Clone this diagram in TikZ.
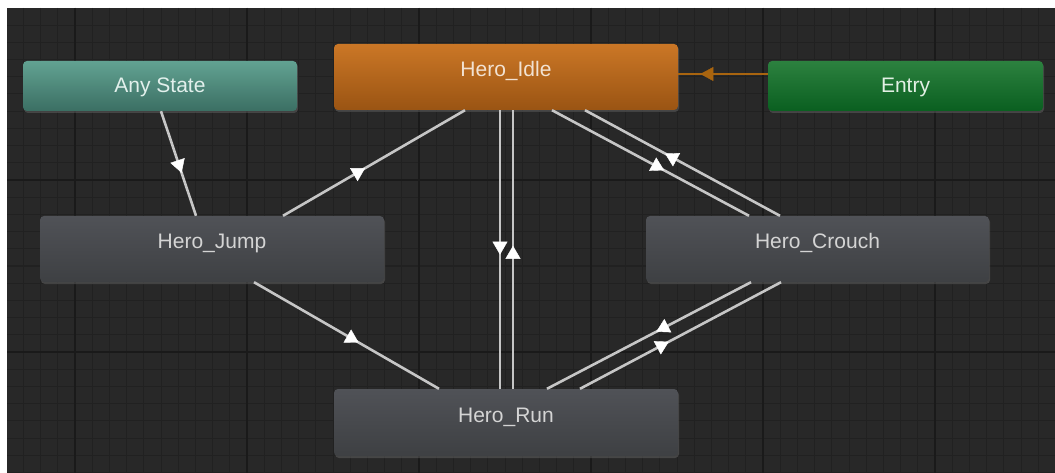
\documentclass[tikz,border=0pt]{standalone}
\usepackage{fontspec}
\setmainfont{Liberation Sans}
\usetikzlibrary{arrows.meta,decorations.markings,shadows}
\definecolor{bgC}{HTML}{282828}
\definecolor{minorC}{HTML}{212121}
\definecolor{majorC}{HTML}{1A1A1A}
\definecolor{grayTop}{HTML}{505257}
\definecolor{grayBot}{HTML}{3E4043}
\definecolor{grayTxt}{HTML}{D4D4D4}
\definecolor{idleTop}{HTML}{CB7726}
\definecolor{idleBot}{HTML}{9A5413}
\definecolor{idleTxt}{HTML}{F2E2D2}
\definecolor{anyTop}{HTML}{62A292}
\definecolor{anyBot}{HTML}{3B6F63}
\definecolor{anyTxt}{HTML}{E2F0EC}
\definecolor{entryTop}{HTML}{2C813F}
\definecolor{entryBot}{HTML}{0A5F20}
\definecolor{entryTxt}{HTML}{E2F0E4}
\definecolor{lineC}{HTML}{C6C6C6}
\definecolor{orangeLine}{HTML}{A8640F}
\tikzset{
  state/.style={rounded corners=4pt, inner sep=0pt, minimum width=344pt, minimum height=66pt,
    font=\fontsize{21}{25}\selectfont, text height=15pt, text depth=15pt,
    drop shadow={opacity=0.35, shadow xshift=1pt, shadow yshift=-2pt}},
  grayst/.style={state, top color=grayTop, bottom color=grayBot, text=grayTxt},
  idlest/.style={state, top color=idleTop, bottom color=idleBot, text=idleTxt},
  shortst/.style={state, minimum width=275pt, minimum height=50pt, text height=16pt, text depth=2pt},
  anyst/.style={shortst, top color=anyTop, bottom color=anyBot, text=anyTxt},
  entryst/.style={shortst, top color=entryTop, bottom color=entryBot, text=entryTxt},
  trans/.style={draw=lineC, line width=2.6pt, postaction={decorate},
    decoration={markings, mark=at position #1 with {\arrow[xshift=6.5pt, white]{Triangle[width=15pt,length=13pt,line width=0.4pt]}}}},
  entryline/.style={draw=orangeLine, line width=2pt, postaction={decorate},
    decoration={markings, mark=at position #1 with {\arrow[xshift=6.5pt]{Triangle[width=14pt,length=13pt,line width=0.4pt]}}}}
}
\begin{document}
\begin{tikzpicture}[x=1pt,y=-1pt]
\useasboundingbox (0,0) rectangle (1055,473);
\fill[white] (0,0) rectangle (1055,473);
\fill[bgC] (7,8) rectangle (1055,473);
\begin{scope}
  \clip (7,8) rectangle (1055,473);
  \foreach \i in {0,...,61} {
    \pgfmathsetmacro\xx{6.2+17.2*\i}
    \draw[minorC, line width=1pt] (\xx,8) -- (\xx,473);
  }
  \foreach \j in {1,...,27} {
    \pgfmathsetmacro\yy{8+17.2*\j}
    \draw[minorC, line width=1pt] (7,\yy) -- (1055,\yy);
  }
  \foreach \i in {4,14,24,34,44,54} {
    \pgfmathsetmacro\xx{6.2+17.2*\i}
    \draw[majorC, line width=1.6pt] (\xx,8) -- (\xx,473);
  }
  \foreach \j in {10,20} {
    \pgfmathsetmacro\yy{8+17.2*\j}
    \draw[majorC, line width=1.6pt] (7,\yy) -- (1055,\yy);
  }
\end{scope}

\node[idlest] (idle) at (506,77) {Hero\_Idle};
\node[anyst, minimum width=274pt] (any) at (160,86) {Any State};
\node[entryst] (entry) at (905.5,86) {Entry};
\node[grayst] (jump) at (212,249) {Hero\_Jump};
\node[grayst, minimum width=343pt] (crouch) at (817.5,249) {Hero\_Crouch};
\node[grayst, minimum height=67pt] (run) at (506,422.5) {Hero\_Run};

\draw[entryline=0.68] ([yshift=12pt]entry.west) -- ([yshift=3pt]idle.east);
\draw[trans=0.53] ([xshift=1pt]any.south) -- ([xshift=-16pt]jump.north);
\draw[trans=0.42] ([xshift=71pt]jump.north) -- ([xshift=-41pt]idle.south);
\draw[trans=0.535] ([xshift=42pt]jump.south) -- ([xshift=-67pt]run.north);
\draw[trans=0.495] ([xshift=-6pt]idle.south) -- ([xshift=-6pt]run.north);
\draw[trans=0.49] ([xshift=7pt]run.north) -- ([xshift=7pt]idle.south);
\draw[trans=0.54] ([xshift=46pt]idle.south) -- ([xshift=-68.5pt]crouch.north);
\draw[trans=0.56] ([xshift=-37.5pt]crouch.north) -- ([xshift=79pt]idle.south);
\draw[trans=0.436] ([xshift=-66.5pt]crouch.south) -- ([xshift=41pt]run.north);
\draw[trans=0.413] ([xshift=74pt]run.north) -- ([xshift=-36.5pt]crouch.south);
\end{tikzpicture}
\end{document}
